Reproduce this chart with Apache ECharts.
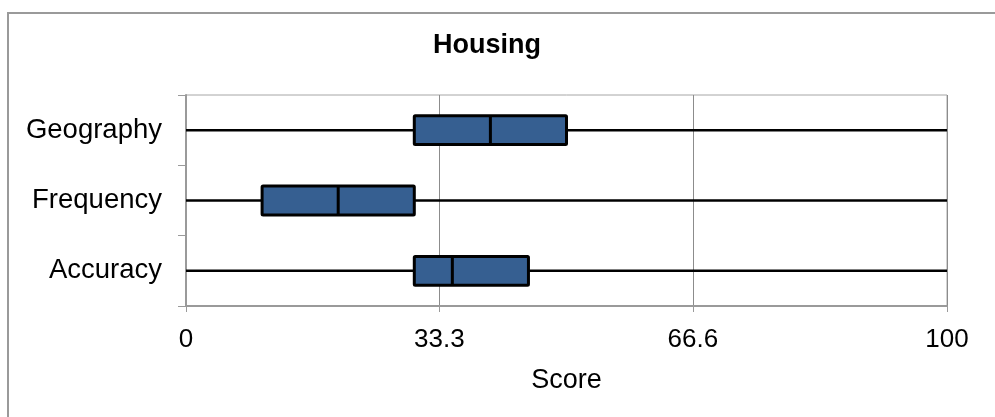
<!DOCTYPE html>
<html>
<head>
<meta charset="utf-8">
<script src="https://cdn.jsdelivr.net/npm/echarts@6/dist/echarts.min.js"></script>
<style>
  html, body { margin: 0; padding: 0; background: #fff; }
  #chart { width: 995px; height: 417px; }
</style>
</head>
<body>
<div id="chart"></div>
<script>
// box plot stats, top to bottom
var categories = ["Geography", "Frequency", "Accuracy"];
var mins = [0, 0, 0];
var q1s = [30, 10, 30];
var medians = [40, 20, 35];
var q3s = [50, 30, 45];
var maxs = [100, 100, 100];
var tickValues = [0, 33.3, 66.6, 100];

var boxData = categories.map(function (c, i) {
  return [i, mins[i], q1s[i], medians[i], q3s[i], maxs[i]];
});

var myChart = echarts.init(document.getElementById("chart"));

function renderBox(params, api) {
  var cat = api.value(0);
  var band = api.size([0, 1])[1];
  var h = band * 0.41;
  var pMin = api.coord([api.value(1), cat]);
  var pQ1 = api.coord([api.value(2), cat]);
  var pMed = api.coord([api.value(3), cat]);
  var pQ3 = api.coord([api.value(4), cat]);
  var pMax = api.coord([api.value(5), cat]);
  var y = pQ1[1];
  return {
    type: "group",
    children: [
      {
        type: "line",
        shape: { x1: pMin[0], y1: y, x2: pMax[0], y2: y },
        style: { stroke: "#000", lineWidth: 2.5 }
      },
      {
        type: "rect",
        shape: { x: pQ1[0], y: y - h / 2, width: pQ3[0] - pQ1[0], height: h, r: 1 },
        style: { fill: "#365f91", stroke: "#000", lineWidth: 3, lineJoin: "round" }
      },
      {
        type: "line",
        shape: { x1: pMed[0], y1: y - h / 2, x2: pMed[0], y2: y + h / 2 },
        style: { stroke: "#000", lineWidth: 3 }
      }
    ]
  };
}

var font = "'Liberation Sans', Arial, sans-serif";

var option = {
  backgroundColor: "#fff",
  animation: false,
  textStyle: { fontFamily: font },
  title: {
    text: "Housing",
    left: 433,
    top: 32,
    padding: 0,
    textStyle: { fontFamily: font, fontSize: 27, fontWeight: "bold", color: "#000" }
  },
  graphic: [
    {
      type: "rect",
      shape: { x: 8, y: 13, width: 1000, height: 420 },
      style: { fill: "none", stroke: "#9a9a9a", lineWidth: 2 },
      silent: true
    }
  ],
  grid: {
    left: 186,
    right: 48,
    top: 95,
    bottom: 111,
    show: true,
    borderColor: "#a6a6a6",
    borderWidth: 1
  },
  xAxis: {
    type: "value",
    min: 0,
    max: 100,
    name: "Score",
    nameLocation: "middle",
    nameGap: 61,
    nameTextStyle: { fontFamily: font, fontSize: 27, color: "#000", verticalAlign: "top" },
    axisLine: { show: true, lineStyle: { color: "#9a9a9a", width: 2 } },
    axisTick: { show: true, length: 6, customValues: tickValues, lineStyle: { color: "#9a9a9a" } },
    axisLabel: {
      customValues: tickValues,
      fontFamily: font,
      fontSize: 26,
      color: "#000",
      margin: 21,
      formatter: function (v) { return String(v); }
    },
    splitLine: { show: true, lineStyle: { color: "#8c8c8c", width: 1 } }
  },
  yAxis: {
    type: "category",
    data: categories,
    inverse: true,
    axisLine: { show: true, lineStyle: { color: "#9a9a9a", width: 2 } },
    axisTick: { show: true, length: 8, lineStyle: { color: "#9a9a9a" } },
    axisLabel: { fontFamily: font, fontSize: 27.5, color: "#000", margin: 24, padding: [6, 0, 0, 0] },
    splitLine: { show: false }
  },
  series: [
    {
      type: "custom",
      renderItem: renderBox,
      encode: { x: [1, 2, 3, 4, 5], y: 0 },
      data: boxData,
      z: 5
    }
  ]
};

myChart.setOption(option);
</script>
</body>
</html>
